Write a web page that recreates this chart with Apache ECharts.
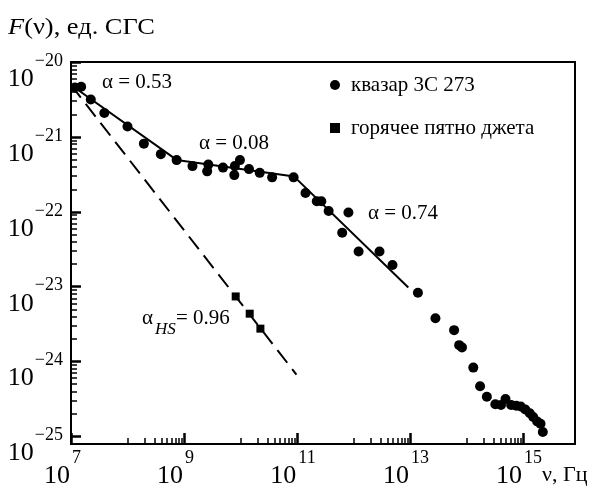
<!DOCTYPE html>
<html><head><meta charset="utf-8">
<script src="https://cdn.jsdelivr.net/npm/echarts@6/dist/echarts.min.js"></script>
<style>html,body{margin:0;padding:0;background:#fff}#c{width:595px;height:488px}</style>
</head><body><div id="c"></div>
<script>
// Values, as decimal exponents: log10(nu [Hz]) and log10(F [CGS])
const quasarLogNu = [7.07, 7.18, 7.35, 7.59, 8.00, 8.29, 8.59, 8.87, 9.15, 9.43, 9.41, 9.69, 9.89, 9.90, 9.99, 10.15, 10.34, 10.56, 10.94,
  11.15, 11.35, 11.43, 11.56, 11.91, 11.80, 12.09, 12.46, 12.69, 13.14, 13.45, 13.78, 13.87, 13.92, 14.12, 14.24, 14.36,
  14.51, 14.61, 14.69, 14.79, 14.88, 14.96, 15.04, 15.12, 15.18, 15.25, 15.31, 15.35];
const quasarLogF = [-20.34, -20.33, -20.50, -20.68, -20.86, -21.09, -21.23, -21.31, -21.39, -21.37, -21.46, -21.41, -21.51, -21.39, -21.31, -21.43, -21.48, -21.54, -21.54,
  -21.75, -21.86, -21.86, -21.99, -22.01, -22.28, -22.53, -22.53, -22.71, -23.08, -23.42, -23.58, -23.78, -23.81, -24.08, -24.33, -24.47,
  -24.57, -24.58, -24.50, -24.58, -24.59, -24.60, -24.64, -24.69, -24.74, -24.80, -24.83, -24.94];
const hotspotLogNu = [9.915, 10.163, 10.352];
const hotspotLogF = [-23.13, -23.36, -23.56];
const fitLogNu = [7.0, 8.87, 10.95, 12.97];
const fitLogF = [-20.307, -21.307, -21.53, -23.01];
const hsFitLogNu = [7.0, 10.99];
const hsFitLogF = [-20.307, -24.173];
const xLabelExps = [7, 9, 11, 13, 15];
const yLabelExps = [-25, -24, -23, -22, -21, -20];
const quasarName = 'квазар 3С 273';
const hotspotName = 'горячее пятно джета';
const slopeTexts = ['α = 0.53', 'α = 0.08', 'α = 0.74'];

const X_MIN = 7, X_MAX = 15.92, Y_MIN = -25.1, Y_MAX = -20;
const FONT = '"Liberation Serif", "Times New Roman", serif';

// minor log ticks (axis decoration)
const xMinor = [];
[8, 10, 12, 14].forEach(n => { for (let k = 1; k <= 9; k++) xMinor.push(n + Math.log10(k)); });
const yMinor = [];
[-25, -24, -23, -22, -21].forEach(n => { for (let k = 2; k <= 9; k++) { const v = n + Math.log10(k); if (v >= Y_MIN && v <= Y_MAX) yMinor.push(v); } });

const zip = (a, b) => a.map((v, i) => [v, b[i]]);

const baseStyle = { fontSize: 26, fontFamily: FONT, color: '#000', lineHeight: 26, verticalAlign: 'bottom' };
const supStyle = { fontSize: 18, fontFamily: FONT, color: '#000', lineHeight: 18, verticalAlign: 'bottom' };
const richX = {
  b: baseStyle,
  s1: Object.assign({}, supStyle, { padding: [0, 17, 22, 2] }),
  s2: Object.assign({}, supStyle, { padding: [0, 8, 22, 2] })
};
const richY = {
  b: baseStyle,
  s: Object.assign({}, supStyle, { padding: [0, 0, 22, 1] })
};

const chart = echarts.init(document.getElementById('c'), null, { renderer: 'canvas' });
chart.setOption({
  animation: false,
  backgroundColor: '#fff',
  grid: { left: 71, top: 62, right: 20, bottom: 44, show: true, borderColor: '#000', borderWidth: 2, backgroundColor: 'transparent', containLabel: false, outerBoundsMode: 'none' },
  xAxis: [
    { type: 'value', min: X_MIN, max: X_MAX, position: 'bottom',
      axisLine: { onZero: false, lineStyle: { color: '#000', width: 2 } },
      axisTick: { inside: true, length: 11, lineStyle: { color: '#000', width: 2.5 }, customValues: xLabelExps },
      axisLabel: { customValues: xLabelExps, margin: 19, formatter: v => '{b|10}{' + (String(v).length > 1 ? 's2' : 's1') + '|' + v + '}', rich: richX },
      splitLine: { show: false } },
    { type: 'value', min: X_MIN, max: X_MAX, position: 'bottom',
      axisLine: { show: false, onZero: false },
      axisTick: { inside: true, length: 6, lineStyle: { color: '#000', width: 1.5 }, customValues: xMinor },
      axisLabel: { show: false }, splitLine: { show: false } }
  ],
  yAxis: [
    { type: 'value', min: Y_MIN, max: Y_MAX, position: 'left',
      axisLine: { onZero: false, lineStyle: { color: '#000', width: 2 } },
      axisTick: { inside: true, length: 10, lineStyle: { color: '#000', width: 2.5 }, customValues: yLabelExps },
      axisLabel: { customValues: yLabelExps, margin: 8, padding: [34, 0, 0, 0], formatter: v => '{b|10}{s|−' + Math.abs(v) + '}', rich: richY },
      splitLine: { show: false } },
    { type: 'value', min: Y_MIN, max: Y_MAX, position: 'left',
      axisLine: { show: false, onZero: false },
      axisTick: { inside: true, length: 6, lineStyle: { color: '#000', width: 1.5 }, customValues: yMinor },
      axisLabel: { show: false }, splitLine: { show: false } }
  ],
  legend: {
    orient: 'vertical', left: 330, top: 74, padding: 0, itemGap: 21, itemWidth: 10, itemHeight: 10,
    data: [quasarName, hotspotName],
    itemStyle: { opacity: 1 },
    textStyle: { fontFamily: FONT, fontSize: 21, color: '#000', lineHeight: 22, padding: [0, 0, 0, 6] }
  },
  series: [
    { name: 'fit', type: 'line', data: zip(fitLogNu, fitLogF), showSymbol: false, symbol: 'none', silent: true,
      lineStyle: { color: '#000', width: 2 }, z: 2 },
    { name: 'hsfit', type: 'line', data: zip(hsFitLogNu, hsFitLogF), showSymbol: false, symbol: 'none', silent: true,
      lineStyle: { color: '#000', width: 2, type: [16, 8] }, z: 2 },
    { name: quasarName, type: 'scatter', data: zip(quasarLogNu, quasarLogF), symbol: 'circle', symbolSize: 10,
      itemStyle: { color: '#000', opacity: 1 }, z: 3 },
    { name: hotspotName, type: 'scatter', data: zip(hotspotLogNu, hotspotLogF), symbol: 'rect', symbolSize: 8,
      itemStyle: { color: '#000', opacity: 1 }, z: 3 }
  ],
  graphic: [
    { type: 'text', x: 8, y: 28, scaleX: 1.1, style: { text: '{i|F}(ν), ед. СГС', rich: { i: { fontStyle: 'italic', fontFamily: FONT, fontSize: 24 } }, fontFamily: FONT, fontSize: 24, fill: '#000', textVerticalAlign: 'middle' } },
    { type: 'text', x: 102, y: 82.5, style: { text: slopeTexts[0], fontFamily: FONT, fontSize: 21, fill: '#000', textVerticalAlign: 'middle' } },
    { type: 'text', x: 199, y: 143, style: { text: slopeTexts[1], fontFamily: FONT, fontSize: 21, fill: '#000', textVerticalAlign: 'middle' } },
    { type: 'text', x: 368, y: 213, style: { text: slopeTexts[2], fontFamily: FONT, fontSize: 21, fill: '#000', textVerticalAlign: 'middle' } },
    { type: 'text', x: 142, y: 318, style: { text: 'α', fontFamily: FONT, fontSize: 21, fill: '#000', textVerticalAlign: 'middle' } },
    { type: 'text', x: 155, y: 330, style: { text: 'HS', fontFamily: FONT, fontStyle: 'italic', fontSize: 17, fill: '#000', textVerticalAlign: 'middle' } },
    { type: 'text', x: 176, y: 318.5, style: { text: '= 0.96', fontFamily: FONT, fontSize: 21, fill: '#000', textVerticalAlign: 'middle' } },
    { type: 'text', x: 542, y: 475, style: { text: 'ν, Гц', fontFamily: FONT, fontSize: 22, fill: '#000', textVerticalAlign: 'middle' } }
  ]
});
</script></body></html>
